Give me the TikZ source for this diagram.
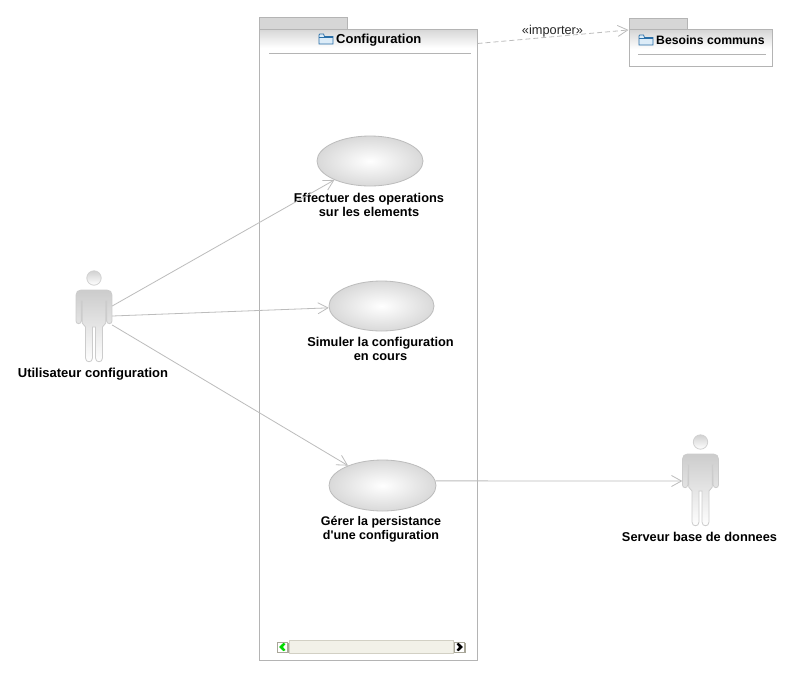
\documentclass[tikz,border=0pt]{standalone}
\usepackage{fontspec}
\setmainfont{Liberation Sans}
\usetikzlibrary{shapes.geometric,arrows.meta,calc}
\definecolor{linegray}{HTML}{BCBCBC}
\definecolor{framegray}{HTML}{B4B4B4}
\definecolor{tabgray}{HTML}{D6D6D6}
\definecolor{iconblue}{HTML}{2A6FA8}
\definecolor{iconfill}{HTML}{DCECF8}
\definecolor{trackfill}{HTML}{F2F1E8}
\definecolor{trackedge}{HTML}{D2D0C4}
\definecolor{btnedge}{HTML}{A8A698}
\tikzset{
  x=1pt,y=-1pt,
  lbl/.style={font=\fontsize{13}{15}\selectfont\bfseries,align=center,inner sep=0pt,text=black},
  lblsmall/.style={lbl,font=\fontsize{12.5}{14.5}\selectfont\bfseries},
  lblmid/.style={lbl,font=\fontsize{12.8}{14.5}\selectfont\bfseries},
  lblnarrow/.style={lbl,font=\fontsize{12.2}{15}\selectfont\bfseries},
  stereo/.style={font=\fontsize{12.8}{14}\selectfont,inner sep=0pt,text=black!85},
  usecase/.style={ellipse,draw=linegray,line width=0.8pt,inner sep=0pt,inner color=white,outer color=black!15},
  pkgbody/.style={rectangle,draw=framegray,line width=1pt,inner sep=0pt},
  pkgtab/.style={draw=framegray,line width=1pt,fill=tabgray},
  pkghead/.style={top color=black!16,bottom color=white},
  pkgsep/.style={draw=framegray,line width=0.8pt},
  actorbox/.style={rectangle,inner sep=0pt,minimum width=36pt,minimum height=92pt},
  assoc/.style={draw=linegray,line width=0.8pt,-{Straight Barb[length=10pt,width=11pt,line width=0.8pt]}},
  importline/.style={draw=linegray,line width=0.8pt,dash pattern=on 5pt off 3pt,-{Straight Barb[length=10pt,width=11pt,line width=0.8pt]}},
  sbtn/.style={rectangle,draw=btnedge,fill=white,line width=0.8pt,minimum width=10pt,minimum height=10pt,inner sep=0pt},
  folder/.pic={
    \path[draw=iconblue,fill=iconfill,line width=0.8pt]
      (0,1) -- (0,10) -- (14,10) -- (14,2.5) -- (5.5,2.5) -- (4.5,0) -- (0.8,0) -- cycle;
    \path[draw=iconblue,line width=0.6pt] (0,3) -- (14,3);
  },
  actorfig/.pic={
    \path[draw=black!18,line width=0.8pt,top color=black!18,bottom color=white]
      (0,-39) circle[radius=7.2];
    \path[draw=black!20,line width=0.8pt,top color=black!20,bottom color=white]
      (-13,-27) -- (13,-27) .. controls (16,-27) and (18,-25) .. (18,-22)
      -- (18,4) .. controls (18,7.5) and (12.8,7.5) .. (12.8,4)
      -- (12.8,-16) -- (11.8,-16) -- (11.8,6) -- (8.5,10) -- (8.5,41)
      .. controls (8.5,46) and (1.5,46) .. (1.5,41)
      -- (1.5,10) -- (-1.5,10) -- (-1.5,41)
      .. controls (-1.5,46) and (-8.5,46) .. (-8.5,41)
      -- (-8.5,10) -- (-11.8,6) -- (-11.8,-16) -- (-12.8,-16) -- (-12.8,4)
      .. controls (-12.8,7.5) and (-18,7.5) .. (-18,4)
      -- (-18,-22) .. controls (-18,-25) and (-16,-27) .. (-13,-27) -- cycle;
  }
}
\begin{document}
\begin{tikzpicture}
\useasboundingbox (0,0) rectangle (798,673);
\fill[white] (0,0) rectangle (798,673);

% package Configuration
\path[pkgtab] (259,17) rectangle (347.5,29);
\path[pkghead] (259,29) rectangle (477,48);
\node[pkgbody,minimum width=218pt,minimum height=631pt] (pkgA) at (368,344.5) {};
\path[pkgsep] (269,53) -- (471,53);
\pic at (319,34) {folder};
\node[lbl,anchor=west] (titleA) at (336,39.7) {Configuration};

% package Besoins communs
\path[pkgtab] (629,18) rectangle (687,30);
\path[pkghead] (629,30) rectangle (772,49);
\node[pkgbody,minimum width=143pt,minimum height=36.5pt] (pkgB) at (700.5,48.2) {};
\path[pkgsep] (638,54) -- (766,54);
\pic at (639,35) {folder};
\node[lblnarrow,anchor=west] (titleB) at (656,40.5) {Besoins communs};

% use cases
\node[usecase,minimum width=106pt,minimum height=50pt] (ucA) at (370,161) {};
\node[usecase,minimum width=105pt,minimum height=50pt] (ucB) at (381.5,306) {};
\node[usecase,minimum width=107pt,minimum height=51pt] (ucC) at (382.5,485.5) {};
\node[lblmid] (ucAtext) at (369,204.8) {Effectuer des operations\\sur les elements};
\node[lblmid] (ucBtext) at (380.5,349) {Simuler la configuration\\en cours};
\node[lblsmall] (ucCtext) at (381,529) {Gérer la persistance\\d\textquotesingle une configuration};

% actors
\node[actorbox] (actA) at (94,317) {};
\pic at (94,317) {actorfig};
\node[lbl] (actAtext) at (93,374) {Utilisateur configuration};
\node[actorbox] (actB) at (700.5,481) {};
\pic at (700.5,481) {actorfig};
\node[lblmid] (actBtext) at (699.5,537) {Serveur base de donnees};

% connectors
\draw[assoc] ([yshift=11pt]actA.east) -- (ucA.208);
\draw[assoc] ([yshift=1pt]actA.east) -- (ucB.182);
\draw[assoc] ([yshift=-8pt]actA.east) -- (ucC.150);
\draw[assoc] (ucC.5) -- (actB.west);
\draw[importline] ([yshift=-15pt]pkgA.north east) -- ([yshift=-0.5pt]pkgB.north west);
\node[stereo] (imp) at (552.5,31.5) {«importer»};

% scrollbar
\node[rectangle,draw=trackedge,fill=trackfill,line width=0.8pt,minimum width=164pt,minimum height=13pt,inner sep=0pt] (track) at (371,647) {};
\fill[btnedge] (278,643) rectangle (289,653);
\fill[btnedge] (455,643) rectangle (466,653);
\node[sbtn] (btnL) at (282.5,647) {};
\node[sbtn] (btnR) at (459.5,647) {};
\fill[green!85!black] (279,647) -- (283.5,642.8) -- (285.5,644) -- (283,647) -- (285.5,650) -- (283.5,651.2) -- cycle;
\fill[black] (463,647) -- (458.5,642.8) -- (456.5,644) -- (459,647) -- (456.5,650) -- (458.5,651.2) -- cycle;
\end{tikzpicture}
\end{document}
